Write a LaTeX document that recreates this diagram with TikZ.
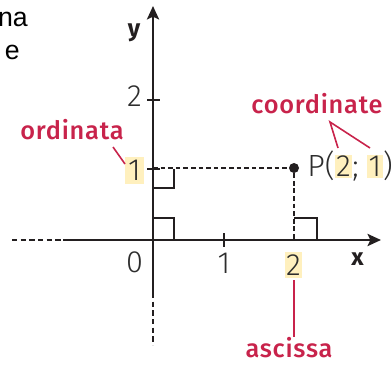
\documentclass[tikz,border=0pt]{standalone}
\usepackage{fontspec}
\setmainfont{Fira Sans}
\newfontfamily\medfont[LetterSpace=3]{Fira Sans Medium}
\newfontfamily\numfont{Fira Sans Light}
\newfontfamily\arialfont{Liberation Sans}
\usetikzlibrary{arrows.meta,calc}
\definecolor{axiscol}{RGB}{35,31,32}
\definecolor{redcol}{RGB}{200,35,75}
\definecolor{hlcol}{RGB}{255,240,190}
\definecolor{numcol}{RGB}{45,45,45}
\newcommand{\hlbox}[1]{{\setlength{\fboxsep}{1.1pt}\colorbox{hlcol}{#1}}}
\begin{document}
\begin{tikzpicture}[x=0.75pt,y=-0.75pt,
  axis/.style={draw=axiscol,line width=2pt},
  axisdash/.style={draw=axiscol,line width=1.6pt,dash pattern=on 4pt off 2.5pt},
  guide/.style={draw=axiscol,line width=1.3pt,dash pattern=on 3.5pt off 2.2pt},
  rightang/.style={draw=axiscol,line width=1.8pt},
  tickmark/.style={draw=axiscol,line width=1.6pt},
  num/.style={font=\numfont\fontsize{23}{26}\selectfont, text=numcol, inner sep=0pt},
  hl/.style={num, fill=hlcol},
  redlab/.style={font=\medfont\fontsize{19}{22}\selectfont, text=redcol, inner sep=0pt},
  redline/.style={draw=redcol,line width=1.2pt},
  axlab/.style={font=\bfseries\fontsize{18}{21}\selectfont, text=axiscol, inner sep=0pt},
  cuttext/.style={font=\arialfont\fontsize{20}{24}\selectfont, text=black, inner sep=0pt}
]
\useasboundingbox (0,0) rectangle (391,366);
% axes
\coordinate (O) at (153,240);
\coordinate (xL) at (12,240);
\coordinate (xS) at (63,240);
\coordinate (xE) at (381,240);
\coordinate (yT) at (153,6);
\coordinate (yS) at (153,293);
\coordinate (yB) at (153,345);
\draw[axisdash] (xL) -- (xS);
\draw[axis,-{Stealth[length=10pt,width=9pt,inset=2pt]}] (xS) -- (xE);
\draw[axisdash] (yS) -- (yB);
\draw[axis,-{Stealth[length=10pt,width=9pt,inset=2pt]}] (yS) -- (yT);
% ticks
\draw[tickmark] (147,100) -- (160,100);
\draw[tickmark] (147,169) -- (160,169);
\draw[tickmark] (224,233) -- (224,247);
% point and guides
\node[circle, fill=axiscol, inner sep=0pt, minimum size=7.5pt] (P) at (294,168) {};
\coordinate (Py) at (153,168);
\coordinate (Px) at (294,240);
\draw[guide] (Py) -- (P);
\draw[guide] (P) -- (Px);
% right angles
\draw[rightang] (153,218) -- (174,218) -- (174,240);
\draw[rightang] (174,169) -- (174,188) -- (153,188);
\draw[rightang] (294,218) -- (317,218) -- (317,240);
% numbers
\node[num] (y2) at (134.5,96) {2};
\node[hl, minimum width=14.25pt, minimum height=20pt] (y1) at (134.5,170.5) {1};
\node[num] (x0) at (134.5,262.5) {0};
\node[num] (x1) at (224,263) {1};
\node[hl, minimum width=12.75pt, minimum height=19.5pt] (x2) at (293.5,265) {2};
% P label
\node[num, anchor=base west] (Plab) at (307,177) {P(\hlbox{2}; \hlbox{1})};
% axis labels
\node[axlab] (xl) at (357.5,259) {x};
\node[axlab] (yl) at (134,33) {y};
% red labels
\node[redlab, anchor=base] (ord) at (72,140) {ordinata};
\node[redlab, anchor=base] (coord) at (317,114) {coordinate};
\node[redlab, anchor=base] (asc) at (289,357) {ascissa};
\coordinate (ordA) at (113,147);
\coordinate (ordB) at (125,164);
\draw[redline] (ordA) -- (ordB);
\coordinate (apex) at (330,122);
\coordinate (v2) at (338,148);
\coordinate (v1) at (370,148);
\draw[redline] (v2) -- (apex) -- (v1);
\coordinate (ascA) at (294,280);
\coordinate (ascB) at (294,337);
\draw[redline] (ascA) -- (ascB);
% cut-off text
\node[cuttext, anchor=base east] (na) at (28,27) {na};
\node[cuttext, anchor=base east] (e) at (20,60) {e};
\end{tikzpicture}
\end{document}
